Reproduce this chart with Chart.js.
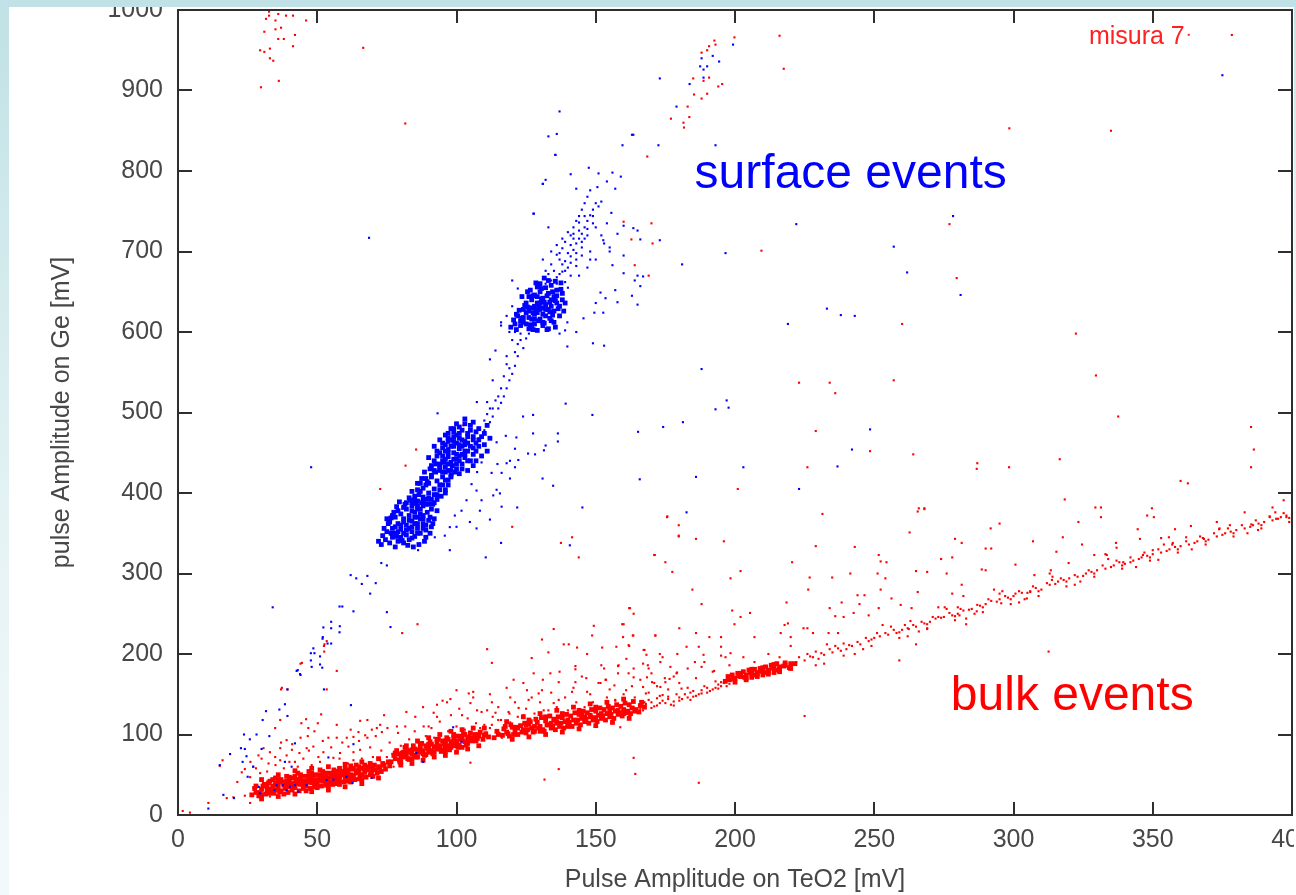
<!DOCTYPE html>
<html>
<head>
<meta charset="utf-8">
<script src="https://cdn.jsdelivr.net/npm/chart.js@4.4.1/dist/chart.umd.min.js"></script>
<style>
html,body{margin:0;padding:0;background:#fff;overflow:hidden;}
#wrap{position:relative;width:1296px;height:895px;}
#c{position:absolute;left:0;top:0;}
.band{position:absolute;z-index:2;}
#topb{left:0;top:0;width:1296px;height:7px;background:#c0e1e5;}
#leftb{left:0;top:0;width:9px;height:895px;background:linear-gradient(#c0e1e5,#e6f3f5 60%,#f2f9fa);}
#rightb{left:1294px;top:0;width:2px;height:895px;background:linear-gradient(#c0e1e5,#fff 40%);}
</style>
</head>
<body>
<div id="wrap">
<canvas id="c" width="1296" height="895"></canvas>
<div class="band" id="topb"></div>
<div class="band" id="leftb"></div>
<div class="band" id="rightb"></div>
</div>
<script>
const xTicks = [0,50,100,150,200,250,300,350,400];
const yTicks = [0,100,200,300,400,500,600,700,800,900,1000];
const xTitle = 'Pulse Amplitude on TeO2 [mV]';
const yTitle = 'pulse Amplitude on Ge [mV]';
const legendLabel = 'misura 7';

// dense blue clusters (surface events)
const surfaceCore = [
[124,612],[126,618],[128,622],[130,628],[132,634],[134,640],[127,630],[129,636],[131,642],[133,648],[125,624],[123,608],[135,626],[137,632],[136,645],[128,610],[130,616],[132,620],[134,614],[126,604],[129,602],[131,608],[133,628],[127,640],[125,636],[124,628],[122,620],[136,652],[134,658],[132,655],[130,650],[128,646],[126,644],[138,640],[137,620],[135,612],[133,604],[129,624],[131,630],[127,616],[125,610],[123,614],[121,610],[130,636],[132,628],[128,632],[126,626],[134,632],[136,636],[130,660],[133,664],[129,656],[124,618],[138,648],[131,612],[127,608],[135,644],[129,644],[131,622],[128,616],
[121.5,603],[123.5,617],[125.5,631],[127.5,645],[129.5,659],[131.5,611],[133.5,625],[135.5,639],[137.5,653],[126.5,609],[128.5,627],[130.5,641],[132.5,603],[134.5,621],[136.5,629],[124.5,633],[122.5,627],[120.5,615],[138.5,626],[139,636],[126.5,652],[128.5,661],[131.5,667],[134.5,650],[135.5,663],[137.5,661],[123.5,644],[125.5,650],[119.5,606],[121.5,622],[127.5,603],[129.5,614],[133.5,617],[135.5,606],[132.5,645],[130.5,654],[127.5,624],[129.5,631],[131.5,637],[133.5,637],
[78,350],[80,355],[82,360],[84,365],[86,370],[79,362],[81,368],[83,372],[85,376],[87,380],[80,345],[82,348],[84,352],[86,356],[88,362],[77,356],[79,340],[81,338],[83,342],[85,346],[87,350],[89,354],[90,366],[88,372],[76,364],[78,370],[80,374],[84,378],[86,384],[82,380],[77,345],[75,352],[89,345],[91,358],[84,358],[80,360],[86,362],[82,354],[78,358],[88,368],
[72,340],[73.5,347],[74,356],[75.5,362],[76.5,369],[77.5,376],[78.5,383],[79.5,389],[81.5,386],[83.5,391],[85.5,387],[87.5,388],[89.5,376],[90.5,370],[91.5,362],[90.5,350],[88.5,340],[86.5,336],[84.5,333],[82.5,335],[80.5,341],[78.5,346],[76.5,350],[74.5,342],[73,336],[76,338],[78,333],[81,350],[83,356],[85,362],[87,368],[89,360],[79,352],[81,364],[83,366],[85,370],[87,374],[79,378],[81,382],[77,372],[75,368],[84,344],[86,350],[88,356],[92,368],[93,378],[91,380],[89,386],
[86,390],[88,395],[90,400],[92,405],[89,410],[87,402],[91,392],[93,398],[95,410],[90,386],[85,396],[87,412],[89,418],[91,422],[93,415],[95,420],[94,404],[92,388],[96,400],[88,384],[84,388],[86,404],[90,412],[92,428],[94,430],[97,416],
[85,392],[86.5,398],[88,406],[89.5,414],[91,420],[92.5,426],[94,434],[95.5,438],[97,428],[98,420],[97,410],[96,404],[94.5,396],[93,392],[91.5,386],[89.5,392],[87.5,418],[86,412],[84,402],[83,394],[88.5,426],[90.5,430],[92.5,436],[98.5,434],[99.5,426],[95,426],[90,394],[92,398],[94,410],[96,416],[88,390],[86,380],[84,384],[82,388],
[95,440],[97,445],[99,450],[101,455],[103,460],[96,452],[98,458],[100,462],[102,466],[104,470],[94,436],[96,432],[98,438],[100,442],[102,448],[104,452],[106,456],[93,446],[95,456],[97,464],[99,470],[101,474],[103,444],[105,440],[107,462],[100,436],[102,430],[98,428],[106,470],[108,466],[105,478],[99,480],[97,474],[92,440],[94,450],[101,446],[103,452],[99,458],[96,442],[100,448],
[93,452],[95,462],[97,468],[99,476],[101,482],[103,486],[105,484],[107,476],[109,470],[110,460],[111,452],[109,446],[107,440],[106,434],[104,428],[101,424],[98,422],[96,426],[94,428],[91,434],[90,444],[92,458],[94,466],[96,472],[98,480],[100,486],[102,478],[104,474],[106,466],[108,458],[106,448],[104,440],[102,436],[100,430],[97,436],[95,446],[97,454],[99,464],[101,468],[103,464],[105,458],[103,448],[101,440],[99,442],[97,450],[101,460],[104,462],[96,460],[98,466],[100,472],[102,458],[107,452],[108,480],[110,474],[112,468],[111,484],[106,488],[103,492]
];

// sparse blue events
const surfaceEvents = [
[136,668],[138,675],[139,688],[141,694],[140,680],[142,702],[143,710],[144,716],[145,722],[146,730],[147,738],[148,745],[149,752],[150,760],[146,744],[144,726],[142,716],[140,698],[138,684],[137,672],[141,708],[143,690],[145,705],[147,720],[149,735],[139,662],[135,676],[137,690],[134,700],[131,690],[133,672],[148,690],[144,670],[140,655],
[132,676],[134,684],[136,696],[138,704],[139,712],[141,720],[142,730],[143,738],[144,744],[145,752],[146,760],[147,768],[148,776],[140,724],[138,716],[136,708],[137,698],[139,676],[141,686],[143,698],[145,712],[147,728],[149,744],[151,756],[152,762],[144,736],[142,722],[146,716],[150,730],[148,700],[152,720],[154,735],[153,710],[155,700],[150,690],[147,680],[145,695],[143,682],[141,670],[136,660],[134,664],[132,660],
[136,846],[133,843],[163.5,845],[159.6,832],[172.5,832],[135.5,820],[151,797],[156,798],[159,793],[154,787],[132,789],[131,784],[143,778],[150.6,780],[157,778],[127.6,747],[133,730],[155.6,748],[160,732],[163.5,729],[165,726],[173,714],[181,684],[157.8,722],[166,715],[152.7,714],[155,705],[160,695],[156,683],[160,673],[165,670],[167,669],[164,664],[166,657],[163,645],[165,634],[157.8,637],[153.5,642],[157,652],[151.7,649],[150,636],[152.7,624],[149.5,624],[145.6,617],[139.8,612],[149,586],[153,583],[139.8,582],[124,580],[118,570],[112,566],[120,664],[122,654],[116,612],[116,608],[147.5,804],[141,796],[137,874],
[108,468],[110,478],[112,488],[113,495],[115,505],[116,512],[117,520],[118,530],[119,540],[120,548],[121,558],[122,570],[123,590],[114,577],[113,540],[119,600],[121,600],[118,620],[120,632],[139,602],[143,600],[137,598],[126,598],
[110,490],[112,505],[114,515],[116,530],[117,545],[119,555],[121,575],[122,585],[118,560],[115,520],[113,505],[111,498],[120,590],[123,598],[125,592],
[199.3,957],[192,943],[188,940],[194.3,936],[190,930],[187.5,930],[188.7,926],[188.7,916],[183.7,908],[173,915],[179,880],[193,832],[163,845],[135.5,820],[131,784],[127.8,747],[196.6,698],[68.6,717],[375,919],
[222,734],[257,706],[261.8,674],[278.3,744],[281,646],[233,629],[238,621],[243,620],[219,610],[188,554],[197,515],[193,504],[197.7,506],[248.5,479],[242,454],[203,432],[236.8,433],[223,405],[182.6,376],
[93.2,499],[111,513],[107.3,513],[139.2,511],[148.8,497],[127.5,497],[123.9,495],[165.2,476],[174.2,482],[181.3,488],[165.8,417],[186,420],[134.7,409],[130.9,418],[145.2,382],[116.2,383],[121.8,382],[110.5,320],[116,338],[140.7,335],[127.5,474],[125.7,449],[128.2,448],[131.4,453],[136.4,474],[136.4,464],[132,459],[121,455],[122.2,441],[119.2,440],[121,432],[118,437],[114.7,436],[116.2,425],[119.2,418],[112.6,425],[114.4,404],[113.2,397],[115.6,399.5],[108.4,378],[112,367],[107.2,356],[104.8,364],[101.8,378],[99.4,372],[97.6,357.6],[100,358],[95.8,347],[92.2,345],[88.6,346],[86.2,329],[97.6,329],[117.7,471],[121.5,469],[114.4,463],[111.4,453],[109,438],[107.4,426],[105.4,411],[107.2,403],[103.6,391],[109,391],
[62,298],[69,275],[64,294],[68,297],[71,288],[66,287],[59,259],[63,253],[75,252],[55,240],[58,227],[55,232],[52,221],[55,213],[49,201],[51,187],[48,184],[44,174],[43,180],[34,258],[58,259],[73,313],[75,310],[47.8,432],
[52.2,233],[58.1,234.5],[76.3,233.5],[51.9,219],[53.7,213],[48.6,207],[47.7,201],[51,197],[47.7,192],[51.8,183],[52.4,156],[42.6,179],[43.8,175],[39.3,156],[38.4,137.6],[36.4,131],[31.6,129],[39.3,123],[30.4,118],[62.1,136.5],[23.7,100],[28.2,100],[25.8,94],[32.8,98],[18.7,75.7],[22.6,83],[24,82],[30,82],[24.6,73],[23.2,66],[15,62],[27,60],[25,47.5],[29,35],[29.4,27],[34.6,31],[35.4,37],[37.6,37],[39,31],[40.2,35],[42,37],[43.2,29],[46.2,37],[53.4,43.5],[55.8,44],[60.5,47.5],[62.7,40],[69.5,46],[40.8,60],[42,89],[38.4,66],[54,71.5],[63,88],[85.6,77],[88,66],[98.8,109],[101.8,91],[16.3,25],[10.9,8],[20.1,21]
];

// dense red clusters (bulk events)
const bulkCore = [
[28,28],[30,32],[32,30],[34,36],[36,33],[38,37],[40,35],[42,40],[44,38],[46,42],[48,40],[50,44],[52,42],[54,46],[56,44],[58,48],[60,46],[62,50],[64,52],[66,50],[68,56],[70,58],[72,60],[74,62],
[31,38],[33,42],[35,40],[37,44],[39,42],[41,46],[43,44],[45,48],[47,46],[49,50],[51,48],[53,52],[55,50],[57,54],[59,52],[61,56],[63,58],[65,60],[67,62],[69,64],
[29,24],[33,27],[37,30],[41,31],[45,33],[49,35],[53,37],[57,39],[61,42],[65,45],[69,50],[73,54],[35,46],[39,48],[43,52],[47,54],[51,56],[46,36],[50,38],[54,40],[58,43],[62,46],[44,45],[48,47],[52,49],[56,52],[60,55],[42,34],[36,39],[32,35],[40,43],[58,58],[62,61],[55,41],[47,43],[53,45],[59,50],[64,55],
[26.5,25],[27.5,33],[29.5,28],[30.5,36],[31.5,26],[32.5,40],[33.5,32],[34.5,27],[35.5,37],[36.5,29],[37.5,41],[38.5,33],[39.5,28],[40.5,39],[41.5,35],[42.5,44],[43.5,30],[44.5,41],[45.5,37],[46.5,48],[47.5,33],[48.5,44],[49.5,39],[50.5,50],[51.5,36],[52.5,46],[53.5,41],[54.5,52],[55.5,38],[56.5,48],[57.5,44],[58.5,54],[59.5,41],[60.5,51],[61.5,47],[62.5,57],[63.5,44],[64.5,53],[65.5,49],[66.5,58],[67.5,47],[68.5,60],[69.5,54],[70.5,62],[71.5,52],[72.5,58],[73.5,64],[74.5,57],[75.5,66],[76,61],[28,36],[30,25],[34,44],[38,26],[42,48],[46,30],[50,34],[54,36],[58,38],[62,41],[66,44],[70,48],[44,50],[48,52],[52,54],[56,56],[60,58],[64,62],[40,47],[36,44],[45,42],[55,47],[65,55],[35,31],[39,37],[43,39],[47,41],[51,43],[53,50],[57,51],[61,53],[63,49],[67,53],[71,56],
[30,20],[36,23],[42,26],[48,29],[54,31],[60,35],[66,39],[72,46],[30,44],[36,50],[42,55],[48,58],[54,60],[60,63],[66,66],[72,70],
[78,70],[80,72],[82,74],[84,76],[86,78],[88,80],[90,82],[92,84],[94,86],[96,88],[98,90],[100,92],[102,93],[104,95],[106,96],[108,98],[110,99],
[79,76],[81,78],[83,80],[85,82],[87,84],[89,86],[91,88],[93,90],[95,92],[97,94],[99,96],[101,98],[103,100],
[80,66],[83,69],[86,72],[89,75],[92,78],[95,81],[98,84],[101,87],[104,89],[107,92],[85,74],[91,80],[97,86],[103,91],[87,88],[93,94],[99,100],[105,102],[82,80],[88,76],[94,82],[100,88],[96,83],[90,86],
[76.5,66],[77.5,74],[78.5,80],[79.5,68],[80.5,77],[81.5,84],[82.5,70],[83.5,78],[84.5,86],[85.5,72],[86.5,81],[87.5,89],[88.5,74],[89.5,83],[90.5,91],[91.5,76],[92.5,85],[93.5,94],[94.5,79],[95.5,88],[96.5,96],[97.5,81],[98.5,91],[99.5,98],[100.5,84],[101.5,94],[102.5,101],[103.5,87],[104.5,97],[105.5,92],[106.5,100],[107.5,95],[108.5,103],[109.5,94],[110.5,101],[111.5,97],[78,77],[81,72],[84,81],[87,78],[90,88],[93,82],[96,92],[99,86],[102,96],[105,94],[108,100],[84,70],[90,78],[96,79],[102,84],
[80,62],[84,64],[88,68],[92,72],[96,74],[100,78],[104,82],[108,86],[82,86],[86,92],[90,96],[94,100],[98,104],[102,106],[106,108],[110,108],
[115,100],[118,103],[121,104],[124,106],[127,108],[130,110],[133,112],[136,114],[139,116],[142,118],[145,120],[148,122],[151,124],[154,126],[157,129],[160,131],[163,133],[166,136],
[117,107],[120,109],[123,111],[126,113],[129,115],[132,117],[135,119],[138,121],[141,123],[144,125],[147,127],[150,129],[153,131],[156,133],[159,135],[162,137],
[119,98],[122,100],[125,102],[128,104],[131,106],[134,108],[137,110],[140,112],[143,114],[146,116],[149,118],[152,120],[155,122],[158,125],[161,127],[164,129],
[126,118],[132,122],[138,126],[144,130],[150,134],[140,118],[146,122],[128,110],[134,114],[152,126],[158,130],[122,108],[136,116],[148,124],
[113.5,96],[114.5,104],[116.5,99],[117.5,110],[118.5,101],[119.5,112],[120.5,100],[121.5,109],[123.5,103],[124.5,114],[125.5,106],[126.5,116],[127.5,103],[128.5,119],[129.5,108],[130.5,121],[131.5,104],[132.5,112],[133.5,123],[134.5,110],[135.5,106],[136.5,122],[137.5,114],[138.5,108],[139.5,125],[140.5,115],[141.5,110],[142.5,127],[143.5,118],[144.5,112],[145.5,129],[146.5,119],[147.5,114],[148.5,131],[149.5,121],[150.5,116],[151.5,133],[152.5,123],[153.5,118],[154.5,135],[155.5,125],[156.5,120],[157.5,137],[158.5,127],[159.5,123],[160.5,139],[161.5,129],[162.5,126],[163.5,141],[164.5,131],[165.5,128],[166.5,140],[167.5,134],[125,112],[135,118],[145,124],[155,130],[130,104],[140,110],[150,120],[160,126],
[120,94],[126,97],[132,100],[138,103],[144,107],[150,111],[156,115],[162,120],[118,116],[124,122],[130,126],[136,130],[142,134],[148,138],[154,140],[160,144],
[198,168],[200,170],[202,172],[204,174],[206,176],[208,177],[210,178],[212,180],[214,182],[216,184],[218,186],[220,188],
[199,174],[201,176],[203,178],[205,180],[207,181],[209,182],[211,184],[213,186],[215,188],
[200,165],[204,168],[208,172],[212,175],[216,178],[220,182],[206,171],[210,174],[214,177],
[196.5,166],[197.5,172],[199.5,169],[201.5,173],[203.5,171],[205.5,177],[207.5,174],[209.5,179],[211.5,177],[213.5,183],[215.5,180],[217.5,185],[219.5,183],[221.5,188],[202,176],[206,181],[210,183],[214,187],[218,189],[204,170],[208,175],[212,178],[216,181]
];

// sparse red events
const bulkEvents = [
[32.7,998],[32.7,993],[36,995],[38.8,993],[41.3,993],[31.6,989],[35,987],[46,987],[37,978],[35,976],[31,973],[42,969],[36,964],[38,964],[41.3,955],[33,952],[29.5,950],[31,948],[33,940],[34.2,937],[36.2,912],[29.8,904],[66.5,953],[81.6,859],
[199.8,966],[192.6,962],[193,957],[190.7,955],[190,950],[188,947],[190.7,916],[188.7,912],[185,915],[194,905],[195.4,908],[190,896],[185.3,895],[188,890],[183,880],[183.6,867],[177,865],[181.5,860],[181.7,854],[168.5,818],[160,737],[170,735],[162.8,715],[170.4,710],[164,683],[169,670],[216,968],[217.5,927],[378.4,969],
[209.5,701],[277,734],[279.6,667],[260,610],[322.4,598],[329.6,546],[337.6,495],[223,537],[234,537],[257,540],[236,524],[229,477],[248.5,452],[264,448],[226,432],[287,437],[286.8,430],[298.4,432],[316.6,442],[201,405],[318.4,392],[329.4,382],[331.4,382],[349.7,381],[360,415],[362.6,412],[385.3,482],[386.3,454],[385.3,432],[397,391],[266,381],[268,381],[298.5,853],[335,850],
[72.6,405],[81.7,434],[85.5,454],[98.7,423],[102.5,484],[120,358],[141.5,345],[137.5,338],[143.9,320],[171.2,323],[175.6,370],[179.8,360],[179.8,346],[186,343],
[86,237],[80.5,226],[57,179],[44,188],[52.4,210],[37.3,158],
[175.7,371],[179.8,347],[196,340],[198.4,294],[202,303],[171,323],[175,314],[177.5,302],[184.7,280],[188,262],[162,257],[163.6,250],[199,254],[202,246],[205.4,251],[231.4,374],[229,334],[220.5,314],[226.8,295],[226.3,280],[234.9,295],[241.4,300],[243,333],[251.6,323],[252.3,315],[254.4,314],[251.2,300],[254,294],[252.3,280],[256.2,269],[244,273],[246.5,273],[238.3,264],[244.7,262],[251.6,257],[242.6,251],[248,248],[234,257],[236,247],[239,246],[259.5,261],[263.4,257],[265.6,377],[268,380],[262.7,351],[274,318],[278,320],[279,343],[281.4,338],[269,302],[265,303],[265.6,277],[276,300],[281.4,286],[278,275],[282,272],[275.3,258],[280,258],[273,246],[280.6,248],[283,237],[286.8,253],[263,241],[262.4,231],[269,231],[265,212],[259,192],
[291.8,356],[295,362],[290,331],[292,331],[288.6,305],[290,304],[295,275],[295.6,263],[300.7,311],[300.7,275],[304.8,269],[306,277],[307,340],[307.5,298],[313.4,304],[313.8,292],[315.4,327],[317.7,345],[319.8,313],[323.3,364],[324.6,336],[329,323],[331.4,370],[333.5,323],[336.8,338],[337,332],[339.4,314],[342,314],[344.6,355],[345.4,343],[348,372],[350.4,370],[350,329],[346.5,323],[352,317],[355.8,345],[357.2,338],[358,355],[362,345],[363.7,359],[368.4,343],[373.8,355],[377.7,360],[383,376],[385.4,361],[387.8,354],[392,371],[394.3,368],[398,370],
[162.3,257],[160,237],[163.5,223],[171.4,223],[180,232],[186,226],[190.8,221],[195,221],[199.8,237],[207,221],[216.4,226],[217.8,236],[218.5,264],[220,221],[226,232],[228,226],[233.6,226],[237,226],[157.4,209],[162,210],[167.5,205],[173,200],[179.3,200],[182.6,209],[187,209],[188.7,199],[195,209],[198.4,201],[153,182],[158,185],[163.6,182],[168.7,186],[179,176],[176.5,169],[185.6,190],[188,184],[192.5,179],[196.6,196],[153.7,168],[156.7,161],[160.9,155],[167,159],[171,164],[175,165],[168,151],[174,149],[180.8,157],[157,143],[163.6,134],[167.5,140],[219,238],[224.6,232],
[44.5,189],[37,156],[39.3,156],[53.4,156],[52.6,212],[53.4,216],[52.5,203],[34.9,108],[46,119],[44.3,114],[46.8,108],[46.6,98],[51.4,125],[50.2,114],[54,96],[57,96],[60.6,96],[61.2,85],[63,97],[64.8,103],[67.2,99],[65.4,117],[68,96],[69.6,106],[71.4,108],[72.6,112],[73.2,103],[75.2,108],[78.6,110],[81.6,110],[85.2,122],[88.2,110],[90,110],[93,122],[96.6,140],[97.8,144],[93,137],[91.8,127],[100,155],[104.4,151],[106,153],[105,139],[102,124],[108.5,108],[112.7,112],[112,108],[116.3,96],[119.3,146],[118.7,128],[127.7,176],[125.3,155],[129.5,151],[133,202],[133.7,176],[134.9,231],[138.5,212],[140.3,212],[143.3,208],[146.9,200],[142.7,185],[142.7,181],[146.6,170],[149.3,235],[148.7,223],[152.3,208],[158.2,186],[159.5,237],[159.8,221],[163.3,223],[161.8,211],[161.8,176],[163.6,171],[167.2,205],[168.2,199],[169,182],[168.4,171],[171.4,223],[173.2,190],[170.2,165],[173.2,159],[174.8,170],[176.8,184],[179.2,177],[153.5,168],[151.7,164],[146.9,153],[142.7,165],[141.5,153],[136.7,143],[131.3,130],[134.9,139],[125.9,143],[122.3,133],[124.1,124],[119.3,115],[114,127],[115,118],[115,103],[112.7,140],[111,130],[107.4,130],[120.5,168],[136.7,165],[130.7,155],[158.8,109],[111,206],[112.7,189],[127,195],[130.7,218],
[15,61],[16,68],[22.9,53],[24,57],[25.9,47],[21.3,41],[27,60],[17.5,21],[19.9,22],[24,24],[25.9,15],[28.9,22],[10.9,15],[4.3,3],[1.7,5],[30.4,31],[33,23],[31.9,40],[29.5,52],[34.9,72],[36.7,68],[39,74],[40.9,81],[42,66],[43.6,77],[36.7,83],[39,93],[28.9,74],[30.7,83],[32.5,64],[46.2,83],[48.6,85],[50.4,72],[52.2,78],[55.8,71],[58.2,77],[60,64],[63,68],[67.8,60],[65.4,81],[72.6,68],[75,72],[77.4,60],[79.2,64],[55.8,52],[36.7,118],
[26,66],[28,58],[30,70],[32,54],[33,78],[35,62],[37,90],[38,58],[40,66],[41,88],[43,60],[44,96],[45,70],[47,80],[48,62],[49,104],[51,66],[52,92],[54,60],[55,84],[57,112],[58,70],[59,90],[61,64],[62,106],[63,78],[65,92],[66,70],[68,118],[69,84],[70,72],[71,98],[73,80],[74,124],[76,90],[77,76],[79,102],[80,86],[82,128],[83,94],[85,104],[86,90],[88,134],[89,98],[91,108],[92,96],[94,116],[95,142],[97,104],[98,124],[100,110],[101,132],[103,106],[104,120],[106,146],[107,114],[109,128],[110,112],[112,150],[113,122],[115,134],[116,118],[118,158],[119,126],[121,140],[122,122],[124,164],[125,132],[127,146],[128,126],[130,140],[131,168],[133,130],[134,152],[136,134],[137,178],[139,146],[140,130],[142,158],[143,140],[145,172],[146,134],[148,150],[149,140],[151,164],[152,186],[154,146],[155,156],[157,142],[158,176],[160,150],[161,194],[163,160],[164,146],[166,168],[167,188],[169,152],[170,176],[172,160],[174,196],[176,156],[178,172],[180,164],[183,182],[186,170],[189,190],[192,178],[195,198],[198,186],[203,196],[207,190],[212,200],[216,196],[220,210],
[166,132],[168,138],[170,140],[172,136],[174,142],[176,144],[178,141],[180,146],[182,150],[184,152],[186,148],[188,155],[190,158],[192,156],[194,162],[196,164],[170,133],[175,139],[180,142],[185,147],[190,152],[195,160],[173,148],[183,158],[193,166],
[167,130],[169,143],[171,135],[173,139],[176,147],[177,137],[179,150],[181,144],[183,146],[185,154],[187,150],[189,160],[191,154],[193,158],[195,165],[197,160],[199,171],[166,141],[172,145],[178,136],[184,143],[188,151],[194,157],[198,163],
[222,190],[225,192],[228,196],[230,194],[232,199],[235,202],[238,204],[240,206],[242,210],[245,212],[248,216],[250,220],[252,222],[255,224],[258,226],[260,230],[262,232],[265,234],[268,238],[270,240],[272,244],[275,246],[278,248],[280,250],[282,254],[285,256],[288,260],[290,262],[292,266],[295,268],[298,270],[300,272],[303,276],[306,278],[308,282],[310,280],[313,286],[316,290],[318,292],[320,294],[323,296],[326,300],[328,302],[330,304],[333,306],[336,310],[338,314],[340,312],[343,316],[346,320],[348,322],[350,324],[353,326],[356,330],[358,333],[360,334],[363,336],[366,340],[368,344],[370,342],[373,346],[376,350],[378,352],[380,354],[383,356],[386,360],[388,362],[390,364],[393,366],[396,370],[398,372],[400,373],
[223,196],[227,197],[229,203],[231,201],[234,206],[237,207],[239,213],[241,211],[244,215],[247,220],[249,218],[251,226],[254,226],[257,230],[259,227],[261,236],[264,236],[267,240],[269,237],[271,246],[274,245],[277,251],[279,247],[281,256],[284,255],[287,261],[289,258],[291,268],[294,265],[297,272],[299,268],[302,278],[305,276],[307,284],[309,278],[312,288],[315,287],[317,294],[319,290],[322,298],[325,297],[327,304],[329,300],[332,310],[335,308],[337,316],[339,310],[342,320],[345,318],[347,326],[349,320],[352,330],[355,328],[357,336],[359,330],[362,340],[365,338],[367,346],[369,340],[372,350],[375,348],[377,356],[379,350],[382,360],[385,358],[387,366],[389,360],[392,370],[395,368],[397,375],[399,369],
[226,200],[236,210],[246,206],[256,234],[266,228],[276,256],[286,250],[296,278],[304,268],[314,296],[324,290],[334,318],[344,308],[354,336],[364,330],[374,356],[384,350],[394,376],[232,188],[243,200],[262,222],[283,244],[302,264],[322,286],
[229,186],[239,198],[249,210],[259,220],[269,232],[279,242],[289,252],[299,262],[309,272],[319,284],[329,296],[339,306],[349,316],[359,326],[369,336],[379,346],[389,356],[399,364],[233,212],[253,236],[273,258],[293,280],[313,300],[333,324],[353,344],[373,364],[393,382],
[225,123],[312.6,203],[163.6,71],[164.2,51],[136.7,57],[131.6,44],[105,65],[187,40]
];

// text annotations placed in data units
const surfaceLabel = {text:'surface events', x:185.5, y:779};
const bulkLabel = {text:'bulk events', x:277.5, y:131};
const legendPos = {x:361.5, y:958};

const toXY = a => a.map(p => ({x:p[0], y:p[1]}));

const decor = {
  id:'decor',
  afterDraw(chart){
    const {ctx, chartArea:a, scales:{x, y}} = chart;
    ctx.save();
    ctx.strokeStyle = '#2e2e2e';
    ctx.lineWidth = 2;
    ctx.strokeRect(a.left, a.top, a.right - a.left, a.bottom - a.top);
    ctx.beginPath();
    xTicks.forEach(v => {
      const px = Math.round(x.getPixelForValue(v));
      ctx.moveTo(px, a.bottom); ctx.lineTo(px, a.bottom - 13);
      ctx.moveTo(px, a.top); ctx.lineTo(px, a.top + 13);
    });
    yTicks.forEach(v => {
      const py = Math.round(y.getPixelForValue(v));
      ctx.moveTo(a.left, py); ctx.lineTo(a.left + 14, py);
      ctx.moveTo(a.right, py); ctx.lineTo(a.right - 14, py);
    });
    ctx.stroke();

    ctx.textBaseline = 'alphabetic';
    ctx.font = '48px "Liberation Sans", Arial, sans-serif';
    ctx.fillStyle = '#0000ff';
    ctx.textAlign = 'left';
    ctx.fillText(surfaceLabel.text, x.getPixelForValue(surfaceLabel.x), y.getPixelForValue(surfaceLabel.y));
    ctx.fillStyle = '#ff0000';
    ctx.fillText(bulkLabel.text, x.getPixelForValue(bulkLabel.x), y.getPixelForValue(bulkLabel.y));

    ctx.font = '25px "Liberation Sans", Arial, sans-serif';
    ctx.textAlign = 'right';
    ctx.fillStyle = '#ff2020';
    const lx = x.getPixelForValue(legendPos.x), ly = y.getPixelForValue(legendPos.y);
    ctx.fillText(legendLabel, lx, ly);
    ctx.fillRect(lx + 3, ly - 10, 2, 2);
    ctx.restore();
  }
};

const tickFont = {family:'"Liberation Sans", Arial, sans-serif', size:25};

new Chart(document.getElementById('c'), {
  type:'scatter',
  data:{datasets:[
    {label:'surface', data:toXY(surfaceCore), backgroundColor:'#0000ff', borderWidth:0, pointStyle:'rect', pointRadius:3.4, order:1},
    {label:'surface events', data:toXY(surfaceEvents), backgroundColor:'#0000ff', borderWidth:0, pointStyle:'rect', pointRadius:1.5, order:1},
    {label:legendLabel, data:toXY(bulkCore), backgroundColor:'#ff0000', borderWidth:0, pointStyle:'rect', pointRadius:3.4, order:2},
    {label:'bulk events', data:toXY(bulkEvents), backgroundColor:'#ff0000', borderWidth:0, pointStyle:'rect', pointRadius:1.5, order:2}
  ]},
  options:{
    responsive:false,
    animation:false,
    devicePixelRatio:1,
    layout:{padding:{top:10, right:4, left:0, bottom:0}},
    plugins:{legend:{display:false}, tooltip:{enabled:false}},
    elements:{point:{hoverRadius:0}},
    scales:{
      x:{
        type:'linear', min:0, max:400,
        grid:{display:false, drawTicks:false}, border:{display:false},
        afterBuildTicks:s => { s.ticks = xTicks.map(v => ({value:v})); },
        ticks:{font:tickFont, color:'#474747', padding:10, maxRotation:0, autoSkip:false, callback:v => String(v)},
        title:{display:true, text:xTitle, font:tickFont, color:'#474747', padding:{top:0, bottom:0}},
        afterFit:s => { s.height = 80; s.paddingLeft = 0; s.paddingRight = 0; }
      },
      y:{
        type:'linear', min:0, max:1000,
        grid:{display:false, drawTicks:false}, border:{display:false},
        afterBuildTicks:s => { s.ticks = yTicks.map(v => ({value:v})); },
        ticks:{font:tickFont, color:'#474747', padding:15, autoSkip:false, callback:v => String(v)},
        title:{display:true, text:yTitle, font:tickFont, color:'#474747', padding:{top:47, bottom:0}},
        afterFit:s => { s.width = 178; s.paddingTop = 0; s.paddingBottom = 0; }
      }
    }
  },
  plugins:[decor]
});
</script>
</body>
</html>
